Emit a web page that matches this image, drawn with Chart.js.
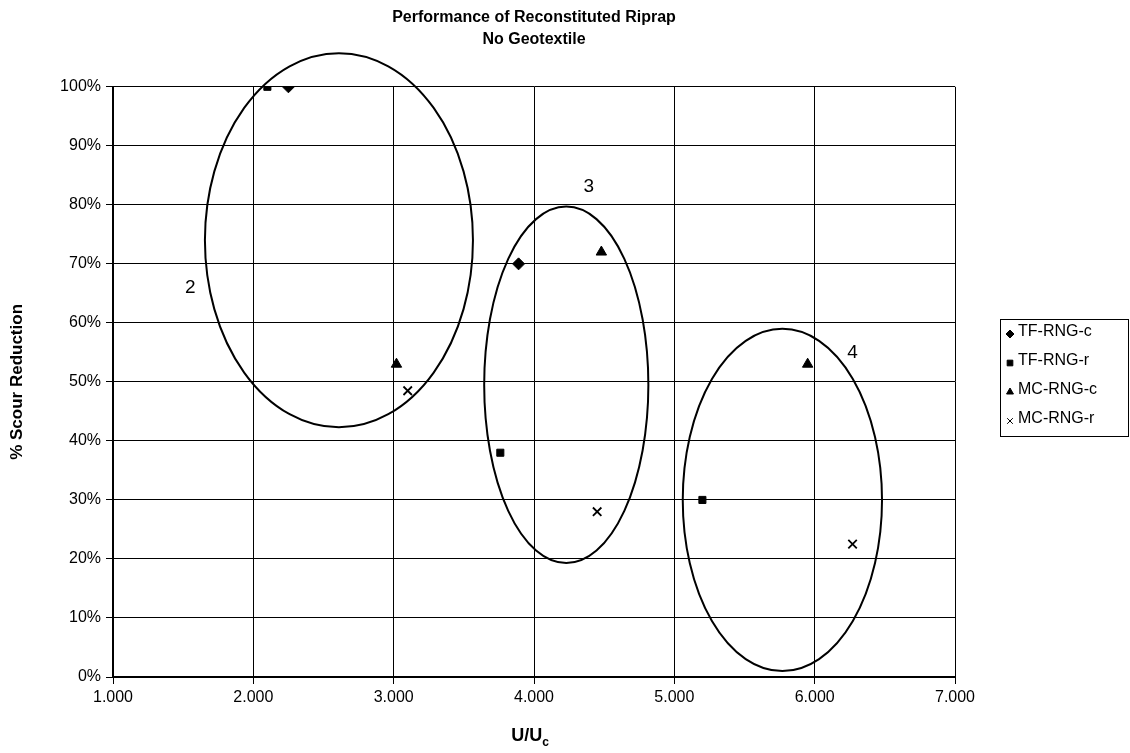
<!DOCTYPE html>
<html>
<head>
<meta charset="utf-8">
<script src="https://cdn.jsdelivr.net/npm/chart.js@4.4.1/dist/chart.umd.min.js"></script>
<style>
html, body { margin: 0; padding: 0; background: #fff; }
</style>
</head>
<body>
<canvas id="scatter" width="1130" height="753"></canvas>
<script>
// series values (x = U/Uc, y = % scour reduction)
var seriesNames = ["TF-RNG-c", "TF-RNG-r", "MC-RNG-c", "MC-RNG-r"];
var tfcX = [2.25, 3.89];
var tfcY = [100, 70];
var tfrX = [2.10, 3.76, 5.20];
var tfrY = [100, 38, 30];
var mccX = [3.02, 4.48, 5.95];
var mccY = [53, 72, 53];
var mcrX = [3.10, 4.45, 6.27];
var mcrY = [48.5, 28, 22.5];

// tick labels
var xTicks = [1, 2, 3, 4, 5, 6, 7];
var yTicks = [0, 10, 20, 30, 40, 50, 60, 70, 80, 90, 100];

// circled groups (centre, half-widths in data units) and their numbers
var groupNames = ["2", "3", "4"];
var groupCx = [2.61, 4.23, 5.77];
var groupCy = [74, 49.5, 30];
var groupRx = [0.955, 0.585, 0.71];
var groupRy = [31.7, 30.2, 29];
var groupLabelX = [1.55, 4.39, 6.27];
var groupLabelY = [66, 83, 55];

function pts(xs, ys) {
    return xs.map(function (x, i) { return {x: x, y: ys[i]}; });
}

var pointStyles = ['rectRot', 'rect', 'triangle', 'crossRot'];
var pointSizes = [6, 5, 6, 6];

var datasets = [pts(tfcX, tfcY), pts(tfrX, tfrY), pts(mccX, mccY), pts(mcrX, mcrY)].map(function (d, i) {
    return {
        label: seriesNames[i],
        data: d,
        pointStyle: pointStyles[i],
        pointRadius: pointSizes[i],
        pointHoverRadius: pointSizes[i],
        borderColor: '#000',
        backgroundColor: '#000',
        borderWidth: i == 3 ? 1.8 : 1,
        showLine: false
    };
});

var fontName = "'Liberation Sans', Arial, sans-serif";

// ellipses, group numbers, legend box and the x title with subscript
var extras = {
    id: 'extras',
    afterDatasetsDraw: function (chart) {
        var ctx = chart.ctx, xs = chart.scales.x, ys = chart.scales.y;
        ctx.save();
        ctx.strokeStyle = '#000';
        ctx.lineWidth = 2;
        for (var i = 0; i < groupNames.length; i++) {
            var cx = xs.getPixelForValue(groupCx[i]);
            var cy = ys.getPixelForValue(groupCy[i]);
            var rx = Math.abs(xs.getPixelForValue(groupCx[i] + groupRx[i]) - cx);
            var ry = Math.abs(ys.getPixelForValue(groupCy[i] + groupRy[i]) - cy);
            ctx.beginPath();
            ctx.ellipse(cx, cy, rx, ry, 0, 0, 2 * Math.PI);
            ctx.stroke();
            ctx.fillStyle = '#000';
            ctx.font = '19px ' + fontName;
            ctx.textAlign = 'center';
            ctx.textBaseline = 'middle';
            ctx.fillText(groupNames[i], xs.getPixelForValue(groupLabelX[i]), ys.getPixelForValue(groupLabelY[i]));
        }
        ctx.restore();
    },
    afterDraw: function (chart) {
        var ctx = chart.ctx, area = chart.chartArea;
        ctx.save();
        // legend
        ctx.strokeStyle = '#000';
        ctx.lineWidth = 1;
        ctx.strokeRect(1000.5, 319.5, 128, 117);
        ctx.font = '16px ' + fontName;
        ctx.textAlign = 'left';
        ctx.textBaseline = 'middle';
        for (var i = 0; i < seriesNames.length; i++) {
            var y = 332 + i * 29;
            ctx.fillStyle = '#000';
            ctx.strokeStyle = '#000';
            if (Chart.helpers && Chart.helpers.drawPoint) {
                Chart.helpers.drawPoint(ctx, {
                    pointStyle: pointStyles[i], rotation: 0,
                    radius: 4, borderWidth: i == 3 ? 1.6 : 1
                }, 1010, y + 2);
            }
            ctx.fillStyle = '#000';
            ctx.fillText(seriesNames[i], 1018, y);
        }
        // x axis title U/Uc
        var mid = (area.left + area.right) / 2 - 4;
        ctx.font = 'bold 18px ' + fontName;
        ctx.textBaseline = 'alphabetic';
        var w1 = ctx.measureText('U/U').width;
        ctx.font = 'bold 12px ' + fontName;
        var w2 = ctx.measureText('c').width;
        var start = mid - (w1 + w2) / 2;
        ctx.font = 'bold 18px ' + fontName;
        ctx.fillText('U/U', start, 741);
        ctx.font = 'bold 12px ' + fontName;
        ctx.fillText('c', start + w1, 746);
        ctx.restore();
    }
};

var options = {
    responsive: false,
    animation: false,
    layout: {padding: {left: 0, right: 175, top: 0, bottom: 0}},
    plugins: {
        legend: {display: false},
        tooltip: {enabled: false},
        title: {
            display: true,
            text: ['Performance of Reconstituted Riprap', 'No Geotextile'],
            color: '#000',
            fullSize: false,
            font: {family: fontName, size: 16, weight: 'bold', lineHeight: 1.4},
            padding: {top: 6, bottom: 36}
        }
    },
    scales: {
        x: {
            type: 'linear',
            min: xTicks[0],
            max: xTicks[xTicks.length - 1],
            afterBuildTicks: function (s) { s.ticks = xTicks.map(function (v) { return {value: v}; }); },
            afterFit: function (s) { s.height = 76; },
            ticks: {
                color: '#000',
                font: {family: fontName, size: 16},
                padding: 4,
                maxRotation: 0,
                callback: function (v) { return v.toFixed(3); }
            },
            grid: {color: '#000', lineWidth: 1, tickLength: 7},
            border: {color: '#000', width: 2}
        },
        y: {
            type: 'linear',
            min: yTicks[0],
            max: yTicks[yTicks.length - 1],
            afterBuildTicks: function (s) { s.ticks = yTicks.map(function (v) { return {value: v}; }); },
            afterFit: function (s) { s.width = 113; },
            ticks: {
                color: '#000',
                font: {family: fontName, size: 16},
                padding: 5,
                callback: function (v) { return v + '%'; }
            },
            grid: {color: '#000', lineWidth: 1, tickLength: 7},
            border: {color: '#000', width: 2},
            title: {
                display: true,
                text: '% Scour Reduction',
                color: '#000',
                font: {family: fontName, size: 17, weight: 'bold'},
                padding: {top: 7, bottom: 0}
            }
        }
    }
};

var scatter = new Chart(document.getElementById('scatter').getContext('2d'), {
    type: 'scatter',
    data: {datasets: datasets},
    options: options,
    plugins: [extras]
});
</script>
</body>
</html>
